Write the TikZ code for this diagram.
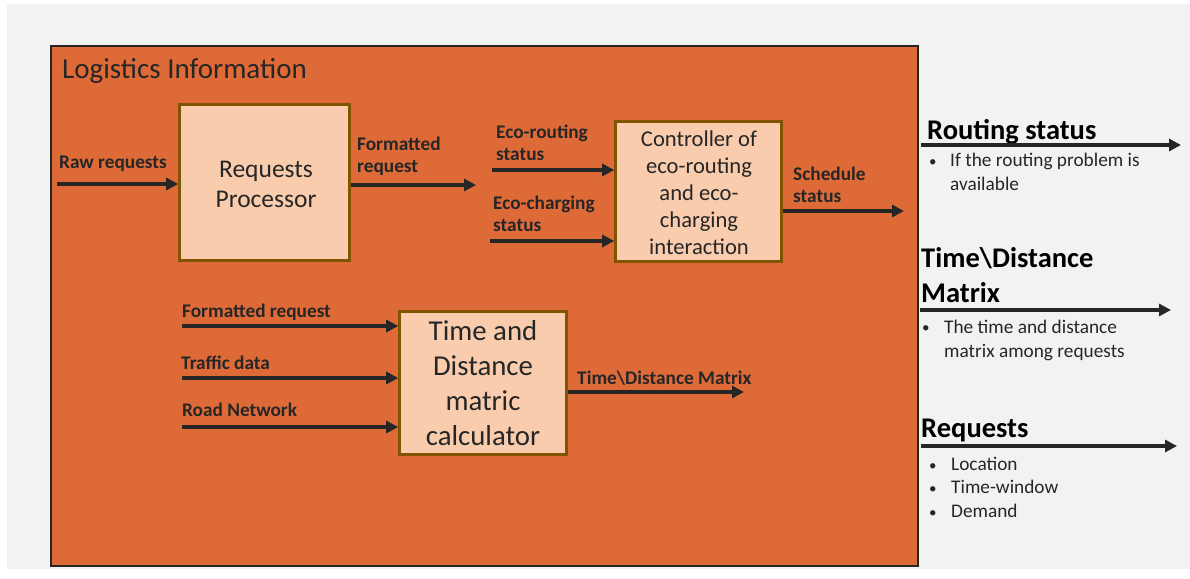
\documentclass[tikz,border=0pt]{standalone}
\usepackage{fontspec}
\setmainfont{Carlito}
\usetikzlibrary{arrows.meta}
\definecolor{pagebg}{RGB}{242,242,242}
\definecolor{panel}{RGB}{222,106,56}
\definecolor{peach}{RGB}{248,204,173}
\definecolor{boxedge}{RGB}{128,84,0}
\definecolor{ink}{RGB}{38,38,38}
\tikzset{
  flow/.style={draw=ink, line width=3.8pt, -{Triangle[length=12pt,width=12pt]}},
  procbox/.style={draw=boxedge, line width=2.6pt, fill=peach, inner sep=0pt},
  boxtext/.style={text=ink, align=center, inner sep=0pt, anchor=base},
  lbl/.style={font=\fontsize{19.3}{22}\selectfont\bfseries, text=ink, anchor=base west, inner sep=0pt, align=left},
  head/.style={font=\fontsize{28.5}{35}\selectfont\bfseries, text=black, anchor=base west, inner sep=0pt, align=left},
  note/.style={font=\fontsize{19.3}{23.5}\selectfont, text=ink, anchor=base west, inner sep=0pt, align=left},
  dot/.style={font=\fontsize{15}{23.5}\selectfont, text=ink, anchor=base west, inner sep=0pt, align=left}
}
\begin{document}
\begin{tikzpicture}[x=1pt,y=-1pt]
\useasboundingbox (0,0) rectangle (1190,578);
\fill[white] (0,0) rectangle (1190,578);
\fill[pagebg] (7,4) rectangle (1190,569);
% main panel
\draw[fill=panel, draw=ink, line width=1.6pt] (51,46) rectangle (918,566);
\node[anchor=base west, inner sep=0pt, font=\fontsize{29}{34}\selectfont, text=ink] (title) at (62,78) {Logistics Information};

% processing blocks (text nodes are placed by the baseline of their last line)
\node[procbox, minimum width=170pt, minimum height=156pt] (rp) at (264.5,182.5) {};
\node[boxtext, font=\fontsize{25.5}{30}\selectfont] (rpt) at (266,207) {Requests\\Processor};
\node[procbox, minimum width=166pt, minimum height=140pt] (ctl) at (698.5,191.5) {};
\node[boxtext, font=\fontsize{22.6}{27}\selectfont] (ctlt) at (699,254) {Controller of\\eco-routing\\and eco-\\charging\\interaction};
\node[procbox, minimum width=167pt, minimum height=143pt] (tdm) at (483,383) {};
\node[boxtext, font=\fontsize{28.8}{35}\selectfont] (tdmt) at (483,445) {Time and\\Distance\\matric\\calculator};

% free ends of the connectors
\coordinate (rawS) at (57,184);
\coordinate (fmtE) at (476,185);
\coordinate (ecoR) at (492,170);
\coordinate (ecoC) at (490,241);
\coordinate (schE) at (904,211);
\coordinate (fr2) at (182,326);
\coordinate (trf) at (182,378);
\coordinate (road) at (182,427);
\coordinate (tdmE) at (744,392);

% connectors
\draw[flow] (rawS) -- (rawS -| rp.west);
\draw[flow] (rp.east |- fmtE) -- (fmtE);
\draw[flow] (ecoR) -- (ecoR -| ctl.west);
\draw[flow] (ecoC) -- (ecoC -| ctl.west);
\draw[flow] (ctl.east |- schE) -- (schE);
\draw[flow] (fr2) -- (fr2 -| tdm.west);
\draw[flow] (trf) -- (trf -| tdm.west);
\draw[flow] (road) -- (road -| tdm.west);
\draw[flow] (tdm.east |- tdmE) -- (tdmE);

% connector labels
\node[lbl] (lraw) at (59,168) {Raw requests};
\node[lbl] (lfmt) at (357,172) {Formatted\\request};
\node[lbl] (lecr) at (496,160) {Eco-routing\\status};
\node[lbl] (lecc) at (493,231) {Eco-charging\\status};
\node[lbl] (lsch) at (793,202) {Schedule\\status};
\node[lbl] (lfr2) at (182,317) {Formatted request};
\node[lbl] (ltrf) at (181,369) {Traffic data};
\node[lbl] (lroad) at (182,416) {Road Network};
\node[lbl] (ltdm) at (577,384) {Time\textbackslash Distance Matrix};

% outputs on the right
\node[head] (hrs) at (927,139) {Routing status};
\coordinate (rsS) at (921,145);
\coordinate (rsE) at (1181,145);
\draw[flow] (rsS) -- (rsE);
\node[dot] (brs) at (929,166) {\textbullet};
\node[note] (nrs) at (950,190) {If the routing problem is\\available};

\node[head] (htd) at (921,302) {Time\textbackslash Distance\\Matrix};
\coordinate (tdS) at (920,310);
\coordinate (tdE) at (1171,310);
\draw[flow] (tdS) -- (tdE);
\node[dot] (btd) at (922,332) {\textbullet};
\node[note] (ntd) at (944,357) {The time and distance\\matrix among requests};

\node[head] (hrq) at (921,437) {Requests};
\coordinate (rqS) at (921,446);
\coordinate (rqE) at (1177,446);
\draw[flow] (rqS) -- (rqE);
\node[dot] (brq) at (929,517) {\textbullet\\\textbullet\\\textbullet};
\node[note] (nrq) at (951,517) {Location\\Time-window\\Demand};
\end{tikzpicture}
\end{document}
